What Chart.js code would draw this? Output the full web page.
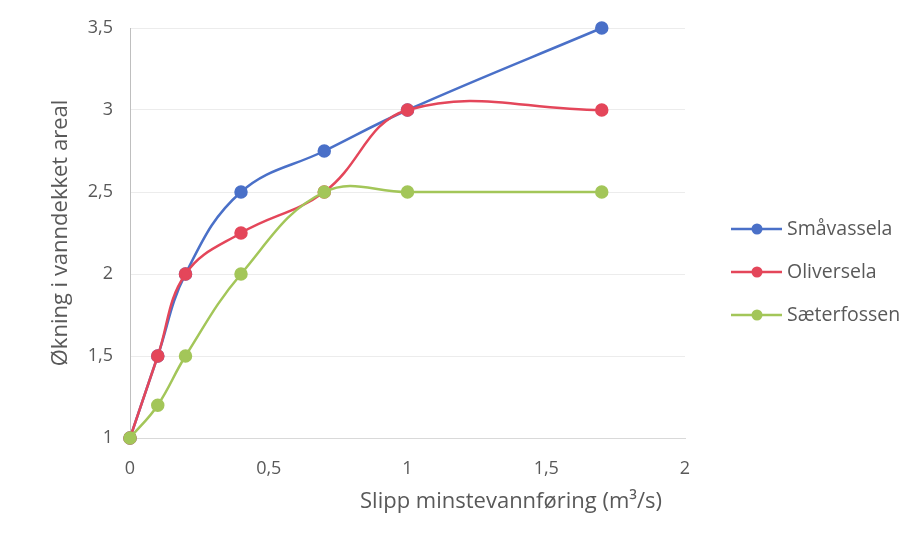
<!DOCTYPE html>
<html>
<head>
<meta charset="utf-8">
<script src="https://cdn.jsdelivr.net/npm/chart.js@4.4.1/dist/chart.umd.min.js"></script>
<style>
  html, body { margin: 0; padding: 0; background: #fff; }
  #wrap { width: 915px; height: 544px; position: relative; }
</style>
</head>
<body>
<div id="wrap"><canvas id="chart"></canvas></div>
<script>
// data
const xValues = [0, 0.1, 0.2, 0.4, 0.7, 1, 1.7];
const smavassela = [1, 1.5, 2, 2.5, 2.75, 3, 3.5];
const oliversela = [1, 1.5, 2, 2.25, 2.5, 3, 3];
const saeterfossen = [1, 1.2, 1.5, 2, 2.5, 2.5, 2.5];
const seriesNames = ["Småvassela", "Oliversela", "Sæterfossen"];
const xTicks = [0, 0.5, 1, 1.5, 2];
const yTicks = [1, 1.5, 2, 2.5, 3, 3.5];
const xTitle = "Slipp minstevannføring (m³/s)";
const yTitle = "Økning i vanndekket areal";

const colors = ["#4a70c8", "#e4465a", "#a3c659"];
const FONT = "'Open Sans'";
const textColor = "#595959";

const fmt = v => String(v).replace(".", ",");
const toPoints = ys => xValues.map((x, i) => ({ x: x, y: ys[i] }));

function makeDataset(label, ys, color, order) {
  return {
    label,
    data: toPoints(ys),
    borderColor: color,
    backgroundColor: color,
    pointBackgroundColor: color,
    pointBorderColor: color,
    borderWidth: 2.5,
    pointRadius: 5.5,
    tension: 0.4,
    fill: false,
    clip: false,
    order
  };
}

// legend on the right and the x title (which sits right of centre in the original)
const extras = {
  id: "extras",
  afterDraw(chart) {
    const ctx = chart.ctx;
    ctx.save();
    chart.data.datasets.forEach((ds, i) => {
      const y = 229 + i * 43;
      ctx.strokeStyle = ds.borderColor;
      ctx.lineWidth = 2.5;
      ctx.beginPath();
      ctx.moveTo(731, y);
      ctx.lineTo(782, y);
      ctx.stroke();
      ctx.fillStyle = ds.borderColor;
      ctx.beginPath();
      ctx.arc(757, y, 5.5, 0, Math.PI * 2);
      ctx.fill();
      ctx.fillStyle = textColor;
      ctx.font = "19.5px " + FONT;
      ctx.textBaseline = "middle";
      ctx.textAlign = "left";
      ctx.fillText(ds.label, 787, y);
    });
    ctx.fillStyle = textColor;
    ctx.font = "22px " + FONT;
    ctx.textAlign = "center";
    ctx.textBaseline = "middle";
    ctx.fillText(xTitle, 511, 502);
    ctx.restore();
  }
};

new Chart(document.getElementById("chart"), {
  type: "line",
  data: {
    datasets: [
      makeDataset(seriesNames[0], smavassela, colors[0], 3),
      makeDataset(seriesNames[1], oliversela, colors[1], 2),
      makeDataset(seriesNames[2], saeterfossen, colors[2], 1)
    ]
  },
  plugins: [extras],
  options: {
    responsive: true,
    maintainAspectRatio: false,
    animation: false,
    layout: { padding: { top: 28, right: 230, bottom: 0, left: 0 } },
    plugins: {
      legend: { display: false },
      tooltip: { enabled: false }
    },
    scales: {
      x: {
        type: "linear",
        min: 0,
        max: 2,
        afterBuildTicks: s => { s.ticks = xTicks.map(v => ({ value: v })); },
        afterFit: s => { s.height = 106; },
        ticks: {
          color: textColor,
          font: { family: FONT, size: 18 },
          padding: 20,
          maxRotation: 0,
          callback: v => fmt(v)
        },
        grid: { display: false, drawTicks: false },
        border: { display: true, color: "#d9d9d9", width: 1 }
      },
      y: {
        type: "linear",
        min: 1,
        max: 3.5,
        afterBuildTicks: s => { s.ticks = yTicks.map(v => ({ value: v })); },
        afterFit: s => { s.width = 130; },
        ticks: {
          color: textColor,
          font: { family: FONT, size: 18 },
          padding: 17,
          callback: v => fmt(v)
        },
        grid: { color: "#ececec", drawTicks: false },
        border: { display: true, color: "#bfbfbf", width: 1 },
        title: {
          display: true,
          text: yTitle,
          color: textColor,
          font: { family: FONT, size: 22 },
          padding: { top: 48, bottom: 0 }
        }
      }
    }
  }
});
</script>
</body>
</html>
